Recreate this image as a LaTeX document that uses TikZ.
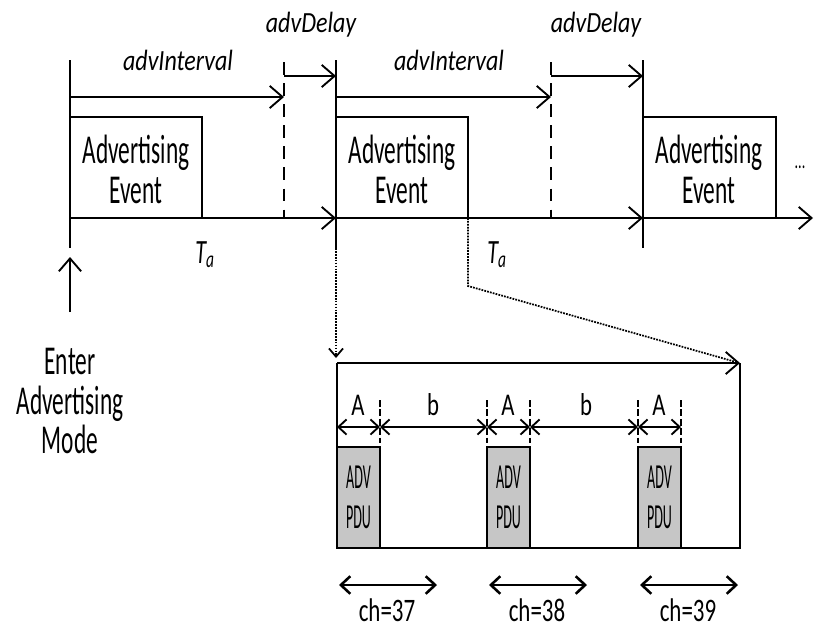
\documentclass[tikz,border=0pt]{standalone}
\usepackage{fontspec}
\setmainfont{Carlito}
\usepackage{graphicx}
\usetikzlibrary{arrows.meta}

\definecolor{pdugray}{RGB}{198,198,198}
\newcommand{\squeeze}[2][0.57]{\scalebox{#1}[1]{#2}}

\tikzset{
  tip/.style={-{Straight Barb[length=11pt,width=19pt]}},
  smalltip/.style={-{Straight Barb[length=7pt,width=12pt]}},
  dimtip/.style={{Straight Barb[length=7pt,width=13pt]}-{Straight Barb[length=7pt,width=13pt]}},
  chtip/.style={line width=2.2pt,{Straight Barb[length=8pt,width=15pt]}-{Straight Barb[length=8pt,width=15pt]}},
  dashline/.style={dash pattern=on 11pt off 7pt},
  tickline/.style={line width=1.2pt,dash pattern=on 6pt off 2pt},
  evt/.style={inner sep=0pt,align=center,font=\fontsize{35}{34}\selectfont},
  itlabel/.style={inner sep=0pt,anchor=base,font=\fontsize{25}{25}\selectfont\itshape},
  talabel/.style={inner sep=0pt,anchor=base,font=\fontsize{29}{29}\selectfont\itshape},
  dimlabel/.style={inner sep=0pt,anchor=base,font=\fontsize{27}{27}\selectfont},
  pdutxt/.style={inner sep=0pt,align=center,font=\fontsize{30}{34}\selectfont},
  chlabel/.style={inner sep=0pt,anchor=base,font=\fontsize{28}{28}\selectfont},
  pdubox/.style={draw,fill=pdugray}
}

\begin{document}
\begin{tikzpicture}[x=0.03cm,y=-0.03cm,line width=1.6pt]
  \useasboundingbox (0,0) rectangle (817,632);

  % Time marks
  \draw (70,60) -- (70,248);
  \draw (336,60) -- (336,248);
  \draw (643,60) -- (643,248);
  \draw[dashline] (284,62) -- (284,218);
  \draw[dashline] (551,62) -- (551,218);

  % advInterval / advDelay
  \draw[tip] (70,97) -- (284,97);
  \draw[tip] (336,97) -- (551,97);
  \draw[tip] (284,76) -- (336,76);
  \draw[tip] (551,76) -- (643,76);
  \node[itlabel] (int1) at (178,70) {\squeeze[0.82]{advInterval}};
  \node[itlabel] (int2) at (449,70) {\squeeze[0.82]{advInterval}};
  \node[itlabel] (del1) at (311,32) {\squeeze[0.82]{advDelay}};
  \node[itlabel] (del2) at (596,32) {\squeeze[0.82]{advDelay}};

  % Advertising events
  \draw (70,117) -- (202,117) -- (202,218);
  \draw (336,117) -- (468,117) -- (468,218);
  \draw (643,117) -- (776,117) -- (776,218);
  \node[evt] (ev1) at (136,169) {\squeeze{Advertising}\\\squeeze{Event}};
  \node[evt] (ev2) at (402,169) {\squeeze{Advertising}\\\squeeze{Event}};
  \node[evt] (ev3) at (709,169) {\squeeze{Advertising}\\\squeeze{Event}};
  \node[inner sep=0pt,anchor=base,font=\fontsize{20}{20}\selectfont] (more) at (800,168) {\squeeze[0.6]{...}};

  % Time axis
  \draw[tip] (70,218) -- (336,218);
  \draw[tip] (336,218) -- (643,218);
  \draw[tip] (643,218) -- (813,218);
  \node[talabel] (ta1) at (205,263) {\squeeze[0.65]{T\textsubscript{a}}};
  \node[talabel] (ta2) at (497,263) {\squeeze[0.65]{T\textsubscript{a}}};

  % Enter advertising mode
  \draw[tip] (70,312) -- (70,257);
  \node[evt] (enter) at (70,401) {\squeeze{Enter}\\\squeeze{Advertising}\\\squeeze{Mode}};

  % Zoom into one event
  \draw[densely dotted,line width=1.5pt,smalltip] (336,248) -- (336,358);
  \draw[densely dotted,line width=1.5pt] (468,218) -- (468,286) -- (736,362);
  \draw[tip] (337,363) -- (740,363);
  \draw (337,363) -- (337,548) -- (740,548) -- (740,363);

  % PDUs on the three channels
  \foreach \x/\ch in {337/37, 487/38, 638/39} {
    \draw[pdubox] (\x,447) rectangle ++(43,101);
    \node[pdutxt] (pdu\ch) at (\x+21.5,497) {\squeeze[0.4]{ADV}\\\squeeze[0.4]{PDU}};
    \draw[chtip] (\x+2,585) -- (\x+100,585);
    \node[chlabel] (ch\ch) at (\x+50,621) {\squeeze[0.7]{ch=\ch}};
  }

  % A and b spacing
  \draw[dimtip] (337,427) -- (380,427);
  \draw[dimtip] (380,427) -- (487,427);
  \draw[dimtip] (487,427) -- (530,427);
  \draw[dimtip] (530,427) -- (638,427);
  \draw[dimtip] (638,427) -- (681,427);
  \foreach \x in {380,487,530,638,681}
    \draw[tickline] (\x,400) -- (\x,443);
  \node[dimlabel] (a1) at (358,415) {\squeeze[0.72]{A}};
  \node[dimlabel] (b1) at (433,415) {\squeeze[0.72]{b}};
  \node[dimlabel] (a2) at (508,415) {\squeeze[0.72]{A}};
  \node[dimlabel] (b2) at (586,415) {\squeeze[0.72]{b}};
  \node[dimlabel] (a3) at (659,415) {\squeeze[0.72]{A}};
\end{tikzpicture}
\end{document}
